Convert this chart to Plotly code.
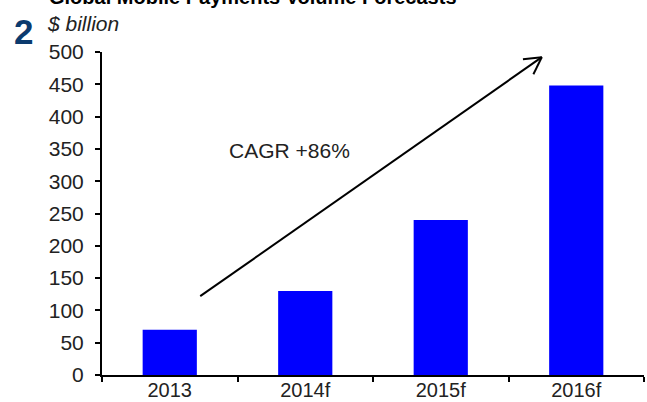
import math
import plotly.graph_objects as go

years = ["2013", "2014f", "2015f", "2016f"]
volume = [70, 130, 240, 448]
y_ticks = [0, 50, 100, 150, 200, 250, 300, 350, 400, 450, 500]

title = "Global Mobile Payments Volume Forecasts"
unit = "$ billion"
cagr_label = "CAGR +86%"

# arrow drawn over the bars (category index, value)
arrow_from = (0.225, 122)
arrow_to = (2.746, 492)

W, H = 647, 402
L, R, T, B = 102, 644, 52, 375   # plot area in pixels
FONT = "Liberation Sans, Arial, sans-serif"


def to_px(xi, yv):
    px = L + (xi + 0.5) / len(years) * (R - L)
    py = B - yv / 500 * (B - T)
    return px, py


def to_paper(px, py):
    return (px - L) / (R - L), (B - py) / (B - T)


fig = go.Figure()
fig.add_trace(go.Bar(x=years, y=volume, marker=dict(color="#0000FF", line=dict(width=0)),
                     hoverinfo="x+y"))

# arrow line and open head
x0, y0 = to_px(*arrow_from)
x1, y1 = to_px(*arrow_to)
ang = math.atan2(y0 - y1, x0 - x1)
head = 19
shapes = []
for a, b in [((x0, y0), (x1, y1))] + [((x1 + head * math.cos(ang + s), y1 + head * math.sin(ang + s)), (x1, y1))
                                      for s in (0.5, -0.5)]:
    ax, ay = to_paper(*a)
    bx, by = to_paper(*b)
    shapes.append(dict(type="line", xref="paper", yref="paper", x0=ax, y0=ay, x1=bx, y1=by,
                       line=dict(color="black", width=2)))

cx, cy = to_paper(*to_px(0.885, 368))
annotations = [
    dict(text=cagr_label, x=cx, y=cy, xref="paper", yref="paper", showarrow=False,
         font=dict(family=FONT, size=21, color="#222")),
    dict(text="<b>" + title + "</b>", x=to_paper(47, 0)[0], y=to_paper(0, 10)[1], xref="paper", yref="paper",
         xanchor="left", yanchor="bottom", showarrow=False, font=dict(family=FONT, size=20, color="black")),
    dict(text="<i>" + unit + "</i>", x=to_paper(45, 0)[0], y=to_paper(0, 23)[1], xref="paper", yref="paper",
         xanchor="left", yanchor="middle", showarrow=False, font=dict(family=FONT, size=21, color="#222")),
    dict(text="<b>2</b>", x=to_paper(12, 0)[0], y=to_paper(0, 32)[1], xref="paper", yref="paper",
         xanchor="left", yanchor="middle", showarrow=False, font=dict(family=FONT, size=35, color="#0B3A6E")),
]

fig.update_layout(
    template="none",
    width=W, height=H,
    margin=dict(l=L, r=W - R, t=T, b=H - B, pad=0, autoexpand=False),
    plot_bgcolor="white", paper_bgcolor="white",
    bargap=0.6, showlegend=False,
    shapes=shapes, annotations=annotations,
    font=dict(family=FONT, size=21, color="#222"),
)
fig.update_xaxes(type="category", tickson="boundaries", ticks="outside", ticklen=5, tickwidth=2,
                 tickcolor="black", showline=True, linecolor="black", linewidth=2, automargin=False,
                 showgrid=False, zeroline=False, tickfont=dict(size=20), ticklabelstandoff=-4)
fig.update_yaxes(range=[0, 500], tickvals=y_ticks, ticks="outside", ticklen=5, tickwidth=2,
                 tickcolor="black", showline=True, linecolor="black", linewidth=2, automargin=False,
                 showgrid=False, zeroline=False, tickfont=dict(size=21), ticklabelstandoff=7)

# page body has a default margin; drop it so the figure sits at the window origin
fig.write_html("out.html", config={"displayModeBar": False},
               post_script="document.body.style.margin='0';document.body.style.overflow='hidden';")
